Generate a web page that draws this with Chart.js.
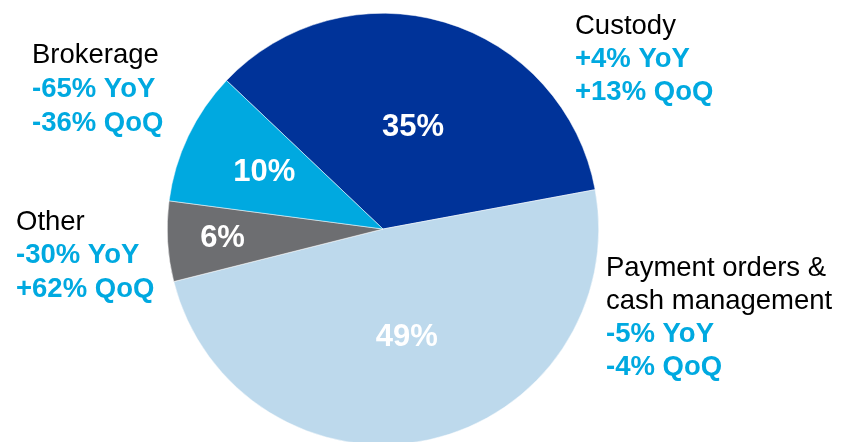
<!DOCTYPE html>
<html>
<head>
<meta charset="utf-8">
<script src="https://cdn.jsdelivr.net/npm/chart.js@4.4.1/dist/chart.umd.min.js"></script>
<style>
  html, body { margin: 0; padding: 0; background: #fff; }
  #wrap { width: 843px; height: 442px; overflow: hidden; position: relative; }
</style>
</head>
<body>
<div id="wrap">
  <canvas id="pie" width="843" height="460"></canvas>
</div>
<script>
// segments, clockwise from the Custody slice
const segmentNames = [["Custody"], ["Payment orders &", "cash management"], ["Other"], ["Brokerage"]];
const shares = [35, 49, 6, 10];
const yoyChange = ["+4% YoY", "-5% YoY", "-30% YoY", "-65% YoY"];
const qoqChange = ["+13% QoQ", "-4% QoQ", "+62% QoQ", "-36% QoQ"];

const sliceColors = ["#003399", "#BDD9EC", "#6D6E71", "#00A9E0"];
const changeColor = "#00A9E0";
const FONT = '"Liberation Sans", Arial, sans-serif';

// how far out (fraction of radius) the percent sits inside each slice
const pctRadius = [0.49, 0.515, 0.745, 0.61];
// callout blocks: left x, middle of first line, line height
const callouts = [
  { x: 575, y: 26, lh: 33 },
  { x: 606, y: 268, lh: 33 },
  { x: 16, y: 222, lh: 33.5 },
  { x: 32, y: 55, lh: 34 }
];

const sliceText = {
  id: "sliceText",
  afterDatasetsDraw(chart) {
    const ctx = chart.ctx;
    const arcs = chart.getDatasetMeta(0).data;
    ctx.save();
    ctx.textBaseline = "middle";

    // percentages inside the slices
    ctx.textAlign = "center";
    ctx.fillStyle = "#fff";
    ctx.font = "bold 31px " + FONT;
    arcs.forEach((arc, i) => {
      const mid = (arc.startAngle + arc.endAngle) / 2;
      const r = arc.outerRadius * pctRadius[i];
      ctx.fillText(shares[i] + "%", arc.x + Math.cos(mid) * r, arc.y + Math.sin(mid) * r);
    });

    // names and growth rates around the pie
    ctx.textAlign = "left";
    callouts.forEach((c, i) => {
      let y = c.y;
      ctx.fillStyle = "#000";
      ctx.font = "27.5px " + FONT;
      segmentNames[i].forEach(line => { ctx.fillText(line, c.x, y); y += c.lh; });
      ctx.fillStyle = changeColor;
      ctx.font = "bold 27.5px " + FONT;
      ctx.fillText(yoyChange[i], c.x, y); y += c.lh;
      ctx.fillText(qoqChange[i], c.x, y);
    });
    ctx.restore();
  }
};

new Chart(document.getElementById("pie"), {
  type: "pie",
  data: {
    labels: segmentNames.map(n => n.join(" ")),
    datasets: [{
      data: shares,
      backgroundColor: sliceColors,
      borderColor: "#fff",
      borderWidth: 0.5
    }]
  },
  options: {
    responsive: false,
    animation: false,
    rotation: -46.5,
    layout: { padding: { top: 13, bottom: 15, left: 167, right: 244 } },
    plugins: { legend: { display: false }, tooltip: { enabled: false } }
  },
  plugins: [sliceText]
});
</script>
</body>
</html>
